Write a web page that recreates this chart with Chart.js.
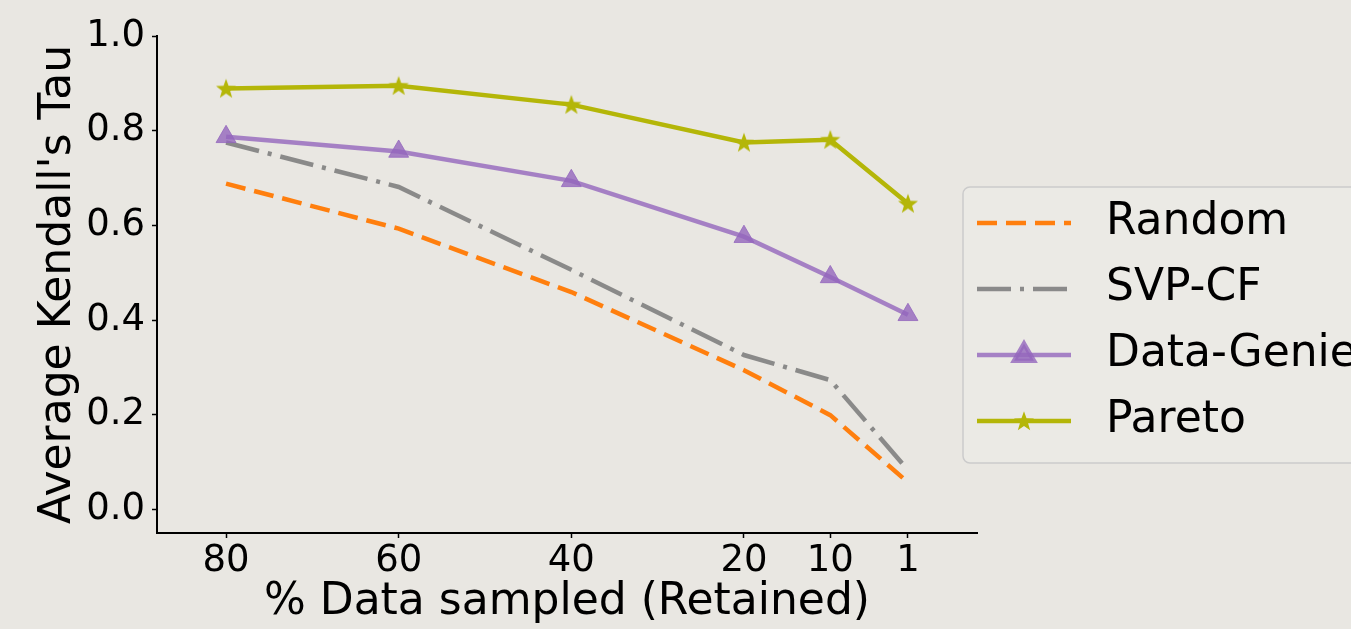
<!DOCTYPE html>
<html>
<head>
<meta charset="utf-8">
<script src="https://cdn.jsdelivr.net/npm/chart.js@4.4.1/dist/chart.umd.min.js"></script>
<style>
    html, body { margin: 0; padding: 0; background: #e9e7e2; }
    #wrap { width: 1351px; height: 629px; }
</style>
</head>
<body>
<div id="wrap"><canvas id="myChart" width="1351" height="629"></canvas></div>
<script>
// % of data retained (x axis)
const sampled = [80, 60, 40, 20, 10, 1];
// Average Kendall's Tau per sampler
const randomTau = [0.688, 0.593, 0.459, 0.294, 0.199, 0.057];
const svpTau = [0.775, 0.681, 0.506, 0.326, 0.273, 0.083];
const genieTau = [0.787, 0.756, 0.694, 0.576, 0.491, 0.411];
const paretoTau = [0.889, 0.895, 0.855, 0.775, 0.781, 0.646];
// tick labels
const xTicks = [80, 60, 40, 20, 10, 1];
const yTicks = [0.0, 0.2, 0.4, 0.6, 0.8, 1.0];

const toPoints = (vals) => sampled.map((s, i) => ({ x: s, y: vals[i] }));

// filled 5 point star, matplotlib '*' style
function makeStar(color) {
    const c = document.createElement('canvas');
    c.width = 24; c.height = 24;
    const g = c.getContext('2d');
    g.beginPath();
    for (let i = 0; i < 10; i++) {
        const r = i % 2 === 0 ? 10.5 : 4.3;
        const a = -Math.PI / 2 + i * Math.PI / 5;
        g.lineTo(12 + r * Math.cos(a), 12.8 + r * Math.sin(a));
    }
    g.closePath();
    g.fillStyle = color;
    g.fill();
    return c;
}

const olive = 'rgb(180,182,8)';
const purple = 'rgba(148,103,189,0.8)';
const starImg = makeStar(olive);

const FONT = '"DejaVu Sans", sans-serif';

// Legend drawn by hand, sits outside the plot on the right
const legendBox = {
    id: 'legendBox',
    afterDraw(chart) {
        const ctx = chart.ctx;
        ctx.save();
        ctx.beginPath();
        ctx.roundRect(963, 187, 430, 276, 7);
        ctx.fillStyle = 'rgba(255,255,255,0.12)';
        ctx.fill();
        ctx.lineWidth = 1.5;
        ctx.strokeStyle = '#cbcbcb';
        ctx.stroke();

        chart.data.datasets.forEach((ds, i) => {
            const y = 223 + i * 66;
            ctx.beginPath();
            ctx.setLineDash(ds.borderDash || []);
            ctx.lineCap = 'butt';
            ctx.lineWidth = ds.borderWidth;
            ctx.strokeStyle = ds.borderColor;
            ctx.moveTo(977, y);
            ctx.lineTo(1071, y);
            ctx.stroke();
            ctx.setLineDash([]);
            if (ds.pointRadius > 0) {
                ctx.fillStyle = ds.pointBackgroundColor;
                ctx.strokeStyle = ds.pointBorderColor;
                Chart.helpers.drawPoint(ctx, {
                    pointStyle: ds.pointStyle,
                    radius: ds.pointRadius,
                    rotation: 0,
                    borderWidth: 1
                }, 1024, y);
            }
            ctx.fillStyle = '#000';
            ctx.font = '44px ' + FONT;
            ctx.textBaseline = 'middle';
            ctx.textAlign = 'left';
            ctx.fillText(ds.label, 1106, y);
        });
        ctx.restore();
    }
};

const ctx = document.querySelector('#myChart').getContext('2d');
const myChart = new Chart(ctx, {
    type: 'line',
    data: {
        datasets: [
            {
                label: 'Random',
                data: toPoints(randomTau),
                borderColor: '#ff7f0e',
                borderWidth: 4.5,
                borderDash: [20, 9],
                borderCapStyle: 'butt',
                pointRadius: 0,
                order: 4
            },
            {
                label: 'SVP-CF',
                data: toPoints(svpTau),
                borderColor: 'rgba(127,127,127,0.9)',
                borderWidth: 4.5,
                borderDash: [34, 9, 4, 9],
                borderCapStyle: 'butt',
                pointRadius: 0,
                order: 3
            },
            {
                label: 'Data-Genie',
                data: toPoints(genieTau),
                borderColor: purple,
                borderWidth: 4.5,
                pointStyle: 'triangle',
                pointRadius: 11.5,
                pointHoverRadius: 11.5,
                pointBackgroundColor: purple,
                pointBorderColor: purple,
                pointBorderWidth: 1,
                order: 2
            },
            {
                label: 'Pareto',
                data: toPoints(paretoTau),
                borderColor: olive,
                borderWidth: 4.5,
                pointStyle: starImg,
                pointRadius: 10,
                pointBackgroundColor: olive,
                pointBorderColor: olive,
                order: 1
            }
        ]
    },
    options: {
        responsive: false,
        animation: false,
        devicePixelRatio: 1,
        layout: { padding: { left: 32, top: 36, right: 374, bottom: 0 } },
        plugins: {
            legend: { display: false },
            tooltip: { enabled: false }
        },
        scales: {
            x: {
                type: 'linear',
                reverse: true,
                min: -7,
                max: 88,
                afterBuildTicks: (scale) => { scale.ticks = xTicks.map(v => ({ value: v })); },
                afterFit: (scale) => { scale.height = 96; },
                ticks: {
                    color: '#000',
                    font: { family: FONT, size: 37 },
                    padding: 1,
                    maxRotation: 0,
                    autoSkip: false,
                    callback: (v) => String(v)
                },
                grid: {
                    drawOnChartArea: false,
                    drawTicks: true,
                    tickLength: 5,
                    tickColor: '#000',
                    tickWidth: 1.5
                },
                border: { display: true, color: '#000', width: 2 },
                title: {
                    display: true,
                    text: '% Data sampled (Retained)',
                    color: '#000',
                    font: { family: FONT, size: 44 },
                    padding: 0
                }
            },
            y: {
                min: -0.05,
                max: 1.0,
                afterBuildTicks: (scale) => { scale.ticks = yTicks.map(v => ({ value: v })); },
                afterFit: (scale) => { scale.width = 125; },
                ticks: {
                    color: '#000',
                    font: { family: FONT, size: 37 },
                    padding: 7,
                    callback: (v) => v.toFixed(1)
                },
                grid: {
                    drawOnChartArea: false,
                    drawTicks: true,
                    tickLength: 5,
                    tickColor: '#000',
                    tickWidth: 1.5
                },
                border: { display: true, color: '#000', width: 2 },
                title: {
                    display: true,
                    text: "Average Kendall's Tau",
                    color: '#000',
                    font: { family: FONT, size: 44 },
                    padding: 0
                }
            }
        }
    },
    plugins: [legendBox]
});
</script>
</body>
</html>
